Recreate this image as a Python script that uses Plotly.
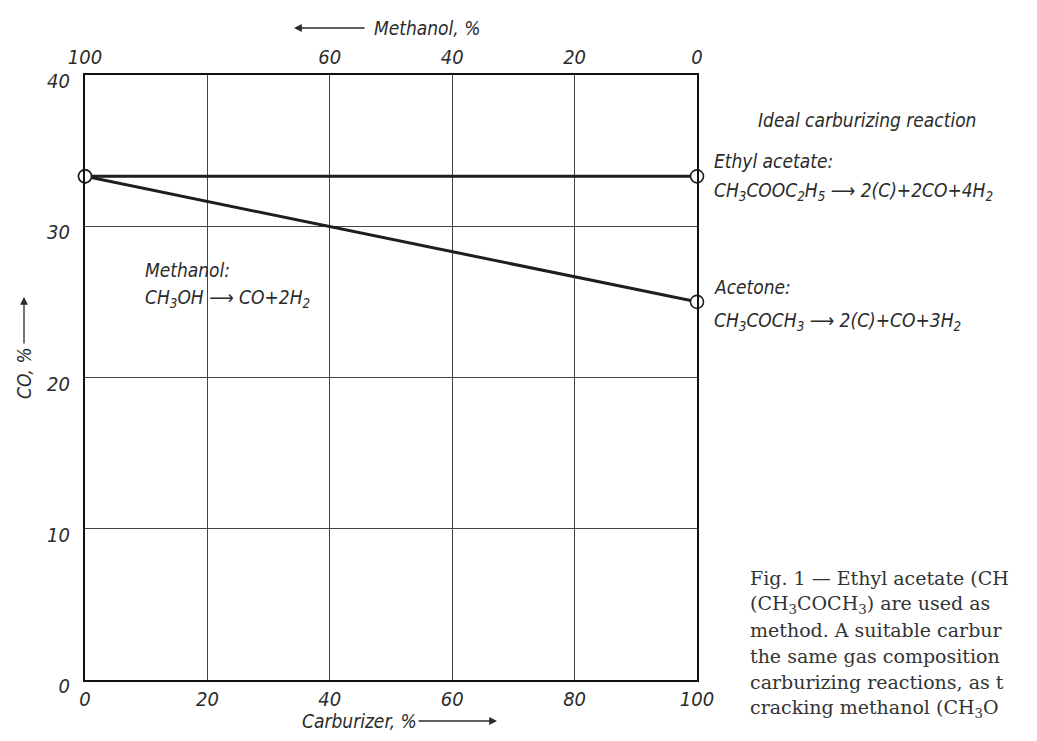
import plotly.graph_objects as go

# Carburizer share in the methanol/carburizer mixture, %
carburizer_pct = [0, 100]
# CO content of the cracked gas, %
co_ethyl_acetate = [33.3, 33.3]
co_acetone = [33.3, 25.0]

x_ticks = [0, 20, 40, 60, 80, 100]
y_ticks = [0, 10, 20, 30, 40]
methanol_ticks = [100, 60, 40, 20, 0]

W, H = 1037, 741
L, R, T, B = 85, 697, 75, 680

LABEL_FONT = "Liberation Sans Narrow, DejaVu Sans Condensed, Arial Narrow, DejaVu Sans, sans-serif"
INK = "#2b2b2b"
ital = dict(family=LABEL_FONT, size=19, color=INK, style="italic")
tick_font = ital | dict(size=20)


def px(xp):
    return (xp - L) / (R - L)


def py(yp):
    return (B - yp) / (B - T)


fig = go.Figure()

for ys in (co_ethyl_acetate, co_acetone):
    fig.add_trace(go.Scatter(
        x=carburizer_pct, y=ys, mode="lines+markers",
        line=dict(color="#1e1e1e", width=3),
        marker=dict(size=13, color="white", line=dict(color="#1e1e1e", width=1.6)),
        cliponaxis=False, showlegend=False, hoverinfo="skip",
    ))

# invisible trace so the methanol (top) axis is laid out
fig.add_trace(go.Scatter(x=[100, 0], y=[None, None], xaxis="x2", mode="lines",
                         showlegend=False, hoverinfo="skip"))

fig.update_layout(
    width=W, height=H,
    margin=dict(l=L, r=W - R, t=T, b=H - B),
    paper_bgcolor="white", plot_bgcolor="white",
    xaxis=dict(range=[0, 100], tickvals=x_ticks, ticks="", showgrid=True,
               gridcolor="#444", gridwidth=1, zeroline=False,
               showline=True, linecolor="#111", linewidth=2, mirror=True,
               tickfont=tick_font, ticklabelstandoff=0),
    xaxis2=dict(range=[100, 0], overlaying="x", side="top", tickvals=methanol_ticks,
                ticks="", showgrid=False, zeroline=False, showline=False,
                tickfont=tick_font, ticklabelstandoff=6),
    yaxis=dict(range=[0, 40], tickvals=y_ticks, ticks="", showgrid=True,
               gridcolor="#444", gridwidth=1, zeroline=False,
               showline=True, linecolor="#111", linewidth=2, mirror=True,
               tickfont=tick_font, ticklabelstandoff=9, ticklabelshift=6),
)

ann = []


def text(x, y, s, xanchor="left", font=ital, **kw):
    ann.append(dict(x=x, y=y, xref="paper", yref="paper", text=s, showarrow=False,
                    xanchor=xanchor, yanchor="middle", font=font, **kw))


def arrow(x, y, ax, ay):
    ann.append(dict(x=x, y=y, xref="paper", yref="paper", text="", showarrow=True,
                    ax=ax, ay=ay, arrowhead=2, arrowsize=1.2, arrowwidth=1.3,
                    arrowcolor=INK))


# axis titles with direction arrows
text(px(372), py(28), "Methanol, %")
arrow(px(294), py(28), 72, 0)
text(px(300), py(721), "Carburizer, %")
arrow(px(497), py(721), -80, 0)
text(px(24), py(373), "CO, %", xanchor="center", textangle=-90)
arrow(px(24), py(297), 0, 48)

# reaction labels
text(px(756), py(120), "Ideal carburizing reaction")
text(px(712), py(161), "Ethyl acetate:")
text(px(712), py(191), "CH<sub>3</sub>COOC<sub>2</sub>H<sub>5</sub> ⟶ 2(C)+2CO+4H<sub>2</sub>")
text(px(712), py(287), "Acetone:")
text(px(712), py(321), "CH<sub>3</sub>COCH<sub>3</sub> ⟶ 2(C)+CO+3H<sub>2</sub>")
text(px(143), py(270), "Methanol:")
text(px(143), py(298), "CH<sub>3</sub>OH ⟶ CO+2H<sub>2</sub>")

# figure caption (only the part that fits on the page)
cap_font = dict(family="DejaVu Serif, Liberation Serif, serif", size=19, color="#333")
caption = [
    "Fig. 1 — Ethyl acetate (CH",
    "(CH<sub>3</sub>COCH<sub>3</sub>) are used as",
    "method. A suitable carbur",
    "the same gas composition",
    "carburizing reactions, as t",
    "cracking methanol (CH<sub>3</sub>O",
]
for i, line in enumerate(caption):
    text(px(748), py(578 + 26 * i), line, font=cap_font)

fig.update_layout(annotations=ann)
fig.write_html("out.html")
